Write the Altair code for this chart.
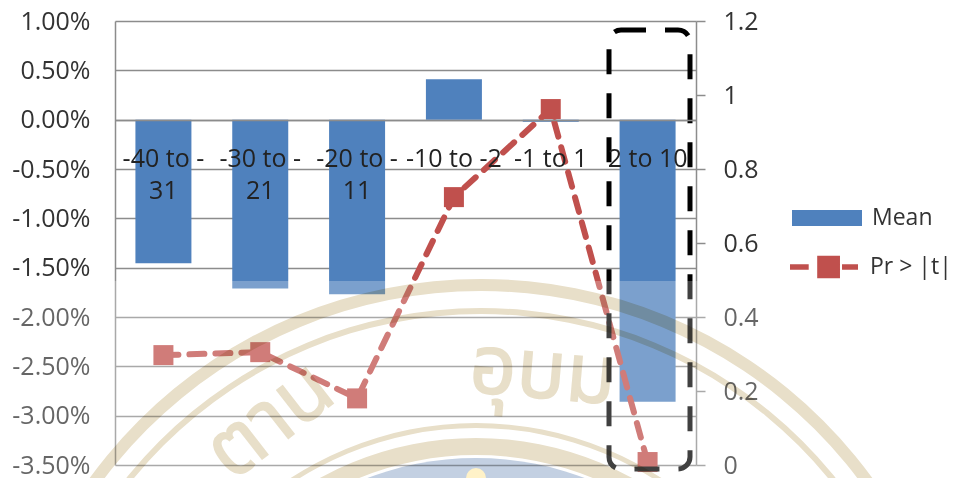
import altair as alt
import pandas as pd

categories = ["-40 to -|31", "-30 to -|21", "-20 to -|11", "-10 to -2", "-1 to 1", "2 to 10"]
mean_values = [-0.01454, -0.0171, -0.0177, 0.0041, -0.0002, -0.0286]
pr_values = [0.297, 0.305, 0.18, 0.724, 0.962, 0.008]
left_ticks = [0.01, 0.005, 0.0, -0.005, -0.01, -0.015, -0.02, -0.025, -0.03, -0.035]
right_ticks = [0, 0.2, 0.4, 0.6, 0.8, 1, 1.2]

FONT = "Open Sans"
FS = 25
LEG = 23
GRID = "#8c8c8c"
TXT = "#333333"
BLUE = "#4F81BD"
RED = "#C0504D"
TAN = "#E8DFC9"

df = pd.DataFrame({"cat": categories, "mean": mean_values, "pr": pr_values,
                   "s1": "Mean", "s2": "Pr > |t|"})
base = alt.Chart(df)
x = alt.X("cat:N", sort=categories,
          scale=alt.Scale(paddingInner=0, paddingOuter=0),
          axis=alt.Axis(title=None, orient="bottom", offset=-345, domain=True, domainColor=GRID,
                        domainWidth=1.5, ticks=False, labelAngle=0, labelFont=FONT, labelFontSize=FS,
                        labelColor="#222222", labelPadding=38, labelLineHeight=32, labelOverlap=False,
                        labelBaseline="middle", labelExpr="split(datum.label,'|')", zindex=1))

bars = base.mark_bar(size=56).encode(
    x=x,
    y=alt.Y("mean:Q", scale=alt.Scale(domain=[-0.035, 0.01], nice=False),
            axis=alt.Axis(title=None, values=left_ticks, ticks=False, grid=True,
                          gridColor=GRID, gridWidth=1.5, domainColor=GRID, domainWidth=1.5,
                          labelFont=FONT, labelFontSize=FS, labelColor=TXT, labelPadding=25,
                          labelExpr="replace(format(datum.value,'.2%'),'\u2212','-')")),
    fill=alt.Fill("s1:N", scale=alt.Scale(domain=["Mean"], range=[BLUE]),
                  legend=alt.Legend(title=None, orient="none", legendX=677, legendY=162, padding=0,
                                    symbolType="M-1,-0.23H1V0.23H-1Z", symbolSize=4900,
                                    symbolStrokeWidth=0, labelFont=FONT, labelFontSize=LEG,
                                    labelColor=TXT, labelOffset=10)),
)

yr = alt.Y("pr:Q", scale=alt.Scale(domain=[0, 1.2], nice=False),
           axis=alt.Axis(title=None, orient="right", values=right_ticks, grid=False, ticks=True,
                         tickSize=9, tickColor=GRID, tickWidth=1.5, domainColor=GRID, domainWidth=1.5,
                         labelFont=FONT, labelFontSize=FS, labelColor=TXT, labelPadding=18,
                         labelExpr="format(datum.value,'~r')"))
line = base.mark_line(strokeWidth=6, strokeDash=[15, 11], strokeCap="round").encode(
    x=alt.X("cat:N", sort=categories),
    y=yr,
    stroke=alt.Stroke("s2:N", scale=alt.Scale(domain=["Pr > |t|"], range=[RED]),
                      legend=alt.Legend(title=None, orient="none", legendX=675, legendY=212, padding=0,
                                        symbolType="M-1,-0.08H-0.45V0.08H-1ZM-0.2,-0.33H0.47V0.33H-0.2ZM0.53,-0.08H1V0.08H0.53Z",
                                        symbolSize=4624, symbolFillColor=RED, symbolStrokeWidth=0,
                                        symbolDash=[1, 0], labelFont=FONT, labelFontSize=LEG,
                                        labelColor=TXT, labelOffset=12)),
)
points = base.mark_point(shape="square", filled=True, size=400, color=RED, opacity=1).encode(
    x=alt.X("cat:N", sort=categories),
    y=alt.Y("pr:Q", scale=alt.Scale(domain=[0, 1.2], nice=False), axis=None),
)

one = alt.Chart(pd.DataFrame({"a": [1]}))
box = one.mark_rect(fill="transparent", stroke="black", strokeWidth=5, strokeDash=[25, 19],
                    cornerRadius=12).encode(
    x=alt.value(494), x2=alt.value(575), y=alt.value(9), y2=alt.value(448))
veil = one.mark_rect(fill="white", opacity=0.25).encode(
    x=alt.value(-107), x2=alt.value(700), y=alt.value(260), y2=alt.value(470))


def ring(r1, r2, color=TAN, cx=361, cy=742):
    return one.mark_arc(fill=color, blend="multiply").encode(
        x=alt.value(cx), y=alt.value(cy),
        radius=alt.value(r2), radius2=alt.value(r1),
        theta=alt.value(0), theta2=alt.value(6.2832))


def stamp(txt, px, py, ang):
    return one.mark_text(text=txt, font="Noto Sans Thai", fontSize=82, color=TAN, stroke=TAN,
                         strokeWidth=1.5, angle=ang, blend="multiply").encode(
        x=alt.value(px), y=alt.value(py))


dot = one.mark_arc(fill="#FFF2C8").encode(
    x=alt.value(361), y=alt.value(457), radius=alt.value(10), radius2=alt.value(0),
    theta=alt.value(0), theta2=alt.value(6.2832))

rings = [ring(472, 484, cx=366), ring(449, 455, cx=366), ring(335, 340), ring(308, 325),
         ring(0, 305, "#C3D0E2"), dot,
         stamp("ตาน", 155, 400, 322), stamp("อุบม", 428, 352, 5)]

chart = alt.layer(bars, line, points, box, veil, *rings).resolve_scale(y="independent").properties(
    width=581, height=444,
    padding={"left": 107, "top": 13, "right": 253, "bottom": 13},
    autosize=alt.AutoSizeParams(type="none"),
).configure_view(stroke=None).configure_axis(labelFontWeight="normal")

chart.save("out.html", embed_options={"renderer": "svg", "actions": False})
